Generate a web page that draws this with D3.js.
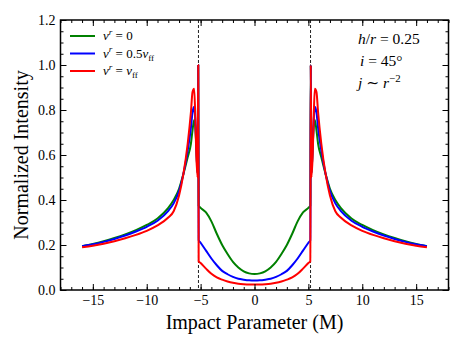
<!DOCTYPE html>
<html lang="en">
<head>
    <meta charset="UTF-8">
    <title>Normalized Intensity</title>
    <script src="https://d3js.org/d3.v7.min.js"></script>
    <style>
        body { margin: 0; background: #fff; }
        text { font-family: "Liberation Serif", "DejaVu Serif", serif; fill: #000; }
    </style>
</head>
<body>
    <div class="chart"></div>
    <script>
        // impact parameter samples (M)
        const impact = [-16, -15, -14, -13, -12, -11, -10, -9, -8, -7.5, -7, -6.6, -6.2, -5.9, -5.75, -5.6, -5.5, -5.4, -5.28, -5.22, -5.18,
            -5, -4.5, -4, -3.5, -3, -2.5, -2, -1.5, -1, -0.5, 0,
            0.5, 1, 1.5, 2, 2.5, 3, 3.5, 4, 4.5, 5,
            5.18, 5.22, 5.28, 5.4, 5.5, 5.6, 5.75, 5.9, 6.2, 6.6, 7, 7.5, 8, 9, 10, 11, 12, 13, 14, 15, 16];

        // v^r = 0
        const vZero = [0.195, 0.205, 0.217, 0.231, 0.247, 0.266, 0.289, 0.318, 0.365, 0.40, 0.45, 0.515, 0.59, 0.65, 0.71, 0.756, 0.73, 0.64, 0.52, 1.0, 0.375,
            0.365, 0.345, 0.305, 0.25, 0.20, 0.16, 0.125, 0.10, 0.083, 0.074, 0.071,
            0.074, 0.083, 0.10, 0.125, 0.16, 0.20, 0.25, 0.305, 0.345, 0.365,
            0.375, 1.0, 0.52, 0.64, 0.73, 0.756, 0.71, 0.65, 0.59, 0.515, 0.45, 0.40, 0.365, 0.318, 0.289, 0.266, 0.247, 0.231, 0.217, 0.205, 0.195];

        // v^r = 0.5 v_ff
        const vHalf = [0.195, 0.203, 0.214, 0.227, 0.242, 0.260, 0.281, 0.308, 0.352, 0.385, 0.44, 0.515, 0.62, 0.72, 0.79, 0.815, 0.76, 0.64, 0.52, 1.0, 0.222,
            0.21, 0.175, 0.14, 0.11, 0.085, 0.07, 0.058, 0.05, 0.046, 0.043, 0.042,
            0.043, 0.046, 0.05, 0.058, 0.07, 0.085, 0.11, 0.14, 0.175, 0.21,
            0.222, 1.0, 0.52, 0.64, 0.76, 0.815, 0.79, 0.72, 0.62, 0.515, 0.44, 0.385, 0.352, 0.308, 0.281, 0.260, 0.242, 0.227, 0.214, 0.203, 0.195];

        // v^r = v_ff
        const vFull = [0.19, 0.197, 0.206, 0.217, 0.230, 0.245, 0.263, 0.287, 0.322, 0.35, 0.42, 0.515, 0.65, 0.79, 0.88, 0.895, 0.78, 0.6, 0.5, 1.0, 0.128,
            0.12, 0.095, 0.072, 0.056, 0.046, 0.038, 0.032, 0.028, 0.026, 0.025, 0.025,
            0.025, 0.026, 0.028, 0.032, 0.038, 0.046, 0.056, 0.072, 0.095, 0.12,
            0.128, 1.0, 0.5, 0.6, 0.78, 0.895, 0.88, 0.79, 0.65, 0.515, 0.42, 0.35, 0.322, 0.287, 0.263, 0.245, 0.230, 0.217, 0.206, 0.197, 0.19];

        const markers = [-5.2, 5.2]; // dashed vertical lines
        const xTicks = [-15, -10, -5, 0, 5, 10, 15];
        const yTicks = [0, 0.2, 0.4, 0.6, 0.8, 1.0, 1.2];

        const w = 463, h = 347;
        const m = { left: 60.5, right: 448.5, top: 20, bottom: 290 };
        const serif = "'Liberation Serif', 'DejaVu Serif', serif";

        const x = d3.scaleLinear().domain([-18, 18]).range([m.left, m.right]);
        const y = d3.scaleLinear().domain([0, 1.2]).range([m.bottom, m.top]);

        const svg = d3.select(".chart").append("svg")
            .attr("width", w).attr("height", h);

        // dashed lines
        svg.selectAll(".marker")
            .data(markers)
            .join("line")
            .attr("x1", d => x(d)).attr("x2", d => x(d))
            .attr("y1", m.top).attr("y2", m.bottom)
            .attr("stroke", "#222").attr("stroke-width", 1)
            .attr("stroke-dasharray", "3,2");

        const series = [
            { vals: vZero, color: "#008000" },
            { vals: vHalf, color: "#0000ff" },
            { vals: vFull, color: "#ff0000" }
        ];

        const line = d3.line()
            .x((d, i) => x(impact[i]))
            .y(d => y(d))
            .curve(d3.curveMonotoneX);

        svg.selectAll(".curve")
            .data(series)
            .join("path")
            .attr("fill", "none")
            .attr("stroke", d => d.color)
            .attr("stroke-width", 2)
            .attr("stroke-linejoin", "round")
            .attr("d", d => line(d.vals));

        // axes, ticks pointing inward on all sides
        const minorX = d3.range(-18, 18.01, 1);
        const minorY = d3.range(0, 1.201, 0.05);

        svg.append("g").attr("transform", `translate(0,${m.bottom})`)
            .call(d3.axisBottom(x).tickValues(minorX).tickSize(-3).tickFormat(""));
        svg.append("g").attr("transform", `translate(0,${m.bottom})`)
            .call(d3.axisBottom(x).tickValues(xTicks).tickSize(-6).tickPadding(5).tickFormat(d3.format("d")));
        svg.append("g").attr("transform", `translate(0,${m.top})`)
            .call(d3.axisTop(x).tickValues(minorX).tickSize(-3).tickFormat(""));
        svg.append("g").attr("transform", `translate(0,${m.top})`)
            .call(d3.axisTop(x).tickValues(xTicks).tickSize(-6).tickFormat(""));

        svg.append("g").attr("transform", `translate(${m.left},0)`)
            .call(d3.axisLeft(y).tickValues(minorY).tickSize(-3).tickFormat(""));
        svg.append("g").attr("transform", `translate(${m.left},0)`)
            .call(d3.axisLeft(y).tickValues(yTicks).tickSize(-6).tickPadding(5).tickFormat(d3.format(".1f")));
        svg.append("g").attr("transform", `translate(${m.right},0)`)
            .call(d3.axisRight(y).tickValues(minorY).tickSize(-3).tickFormat(""));
        svg.append("g").attr("transform", `translate(${m.right},0)`)
            .call(d3.axisRight(y).tickValues(yTicks).tickSize(-6).tickFormat(""));

        svg.selectAll(".domain").remove();
        svg.selectAll(".tick line").attr("stroke", "#000").attr("stroke-width", 1);
        svg.selectAll(".tick text")
            .attr("font-family", serif)
            .style("font-family", serif)
            .style("font-size", "14px");

        // frame
        svg.append("rect")
            .attr("x", m.left).attr("y", m.top)
            .attr("width", m.right - m.left).attr("height", m.bottom - m.top)
            .attr("fill", "none").attr("stroke", "#000").attr("stroke-width", 1.5);

        // axis labels
        svg.append("text")
            .attr("x", (m.left + m.right) / 2).attr("y", 329)
            .attr("text-anchor", "middle")
            .style("font-size", "20px")
            .text("Impact Parameter (M)");

        svg.append("text")
            .attr("transform", `translate(28,${(m.top + m.bottom) / 2}) rotate(-90)`)
            .attr("text-anchor", "middle")
            .style("font-size", "20px")
            .text("Normalized Intensity");

        // legend
        const legendY = [36, 53.5, 71];
        const legend = svg.append("g");
        series.forEach((s, i) => {
            legend.append("line")
                .attr("x1", 70).attr("x2", 95)
                .attr("y1", legendY[i]).attr("y2", legendY[i])
                .attr("stroke", s.color).attr("stroke-width", 2);
        });

        function mathLabel(g, xPos, yPos, parts, size) {
            const t = g.append("text").attr("x", xPos).attr("y", yPos).style("font-size", size + "px");
            parts.forEach(p => {
                const span = t.append("tspan").text(p.s);
                if (p.it) span.style("font-style", "italic");
                if (p.sup) span.attr("dy", -size * 0.4).style("font-size", (size * 0.7) + "px");
                if (p.sub) span.attr("dy", size * 0.25).style("font-size", (size * 0.7) + "px");
                if (p.back) span.attr("dy", p.back);
            });
            return t;
        }

        const lSize = 13;
        mathLabel(legend, 103, 40, [
            { s: "v", it: true }, { s: "r", it: true, sup: true }, { s: " = 0", back: lSize * 0.4 }
        ], lSize);
        mathLabel(legend, 103, 57.5, [
            { s: "v", it: true }, { s: "r", it: true, sup: true }, { s: " = 0.5", back: lSize * 0.4 },
            { s: "v", it: true }, { s: "ff", sub: true }
        ], lSize);
        mathLabel(legend, 103, 75, [
            { s: "v", it: true }, { s: "r", it: true, sup: true }, { s: " = ", back: lSize * 0.4 },
            { s: "v", it: true }, { s: "ff", sub: true }
        ], lSize);

        // annotation
        const aSize = 15.5;
        mathLabel(svg, 358, 44, [
            { s: "h", it: true }, { s: "/" }, { s: "r", it: true }, { s: " = 0.25" }
        ], aSize);
        mathLabel(svg, 360, 66, [
            { s: "i", it: true }, { s: " = 45°" }
        ], aSize);
        mathLabel(svg, 358, 88, [
            { s: "j", it: true }, { s: " ∼ " }, { s: "r", it: true }, { s: "−2", sup: true }
        ], aSize);
    </script>
</body>
</html>
